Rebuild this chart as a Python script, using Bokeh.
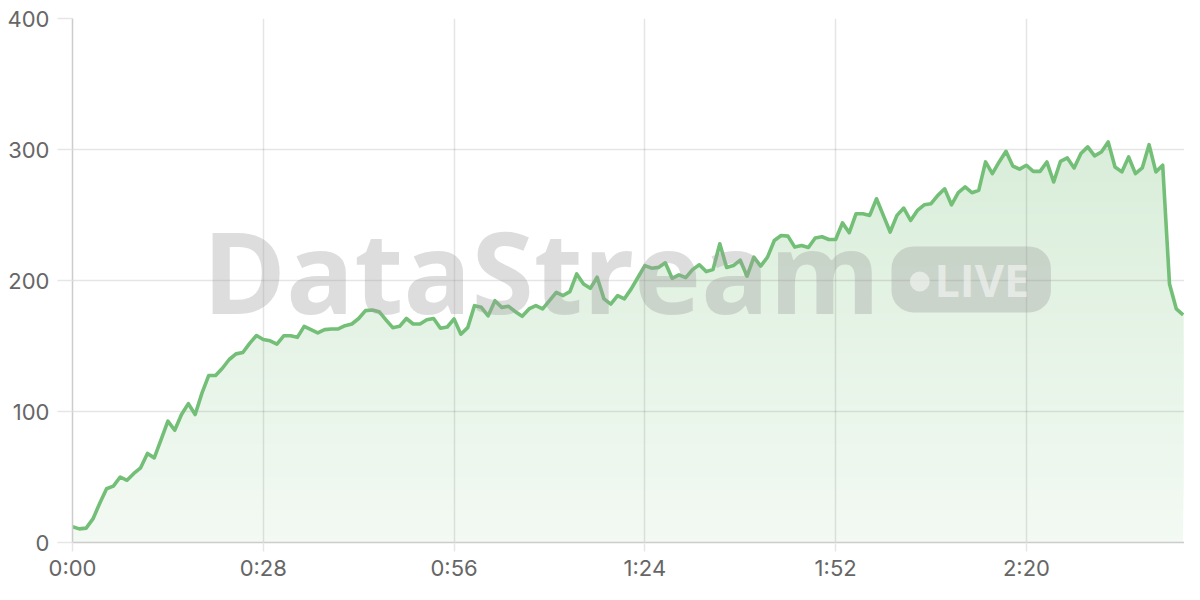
import numpy as np
from bokeh.plotting import figure
from bokeh.models import Range1d, FixedTicker, Label, BoxAnnotation
from bokeh.embed import file_html
from bokeh.resources import INLINE

# ---- data (one sample per second, t = 0 .. 163) ----
seconds = list(range(164))
values = [
    12.0, 10.4, 11.0, 18.0, 30.0, 41.0, 43.0, 50.0, 47.5, 52.7,
    57.0, 68.0, 64.6, 78.6, 92.6, 85.7, 97.7, 106.0, 97.7, 114.0,
    127.5, 127.5, 133.0, 139.7, 144.0, 145.0, 152.0, 158.0, 155.0, 154.0,
    151.5, 157.8, 157.8, 156.6, 165.0, 162.5, 160.0, 162.5, 163.0, 163.0,
    165.5, 166.8, 171.0, 177.0, 177.5, 176.2, 170.0, 164.0, 165.0, 171.0,
    166.8, 166.8, 170.0, 171.0, 163.5, 164.5, 170.6, 159.0, 164.0, 180.8,
    179.5, 173.0, 184.6, 179.5, 180.3, 176.2, 172.7, 178.3, 180.8, 178.3,
    184.6, 191.0, 188.5, 191.5, 205.0, 197.4, 194.0, 202.5, 186.0, 182.0,
    188.5, 186.0, 193.6, 202.5, 211.4, 209.4, 210.0, 213.5, 201.7, 204.3,
    202.2, 208.3, 212.0, 206.8, 208.3, 228.0, 210.0, 211.4, 215.5, 203.3,
    217.8, 211.0, 217.8, 230.5, 234.4, 233.9, 225.5, 226.7, 225.2, 232.4,
    233.4, 231.3, 231.3, 244.0, 236.5, 251.0, 251.0, 249.7, 262.4, 249.7,
    237.0, 249.7, 255.3, 245.8, 253.5, 257.8, 258.6, 265.0, 270.0, 257.8,
    267.0, 271.4, 267.0, 268.8, 290.5, 281.6, 290.5, 298.6, 287.4, 285.0,
    288.0, 283.3, 283.3, 290.5, 275.2, 291.0, 293.6, 285.9, 296.9, 302.0,
    295.1, 298.1, 305.8, 286.7, 282.9, 294.3, 281.6, 285.9, 303.7, 282.9,
    288.0, 197.4, 178.3, 173.7,
]
x_ticks = [0, 28, 56, 84, 112, 140]
x_tick_labels = ["0:00", "0:28", "0:56", "1:24", "1:52", "2:20"]
y_ticks = [0, 100, 200, 300, 400]

GREEN = (116, 191, 119)
GREEN_HEX = "#74bf77"
AXIS = "#cccccc"
LABEL = "#666666"
FONT = "Inter"
WM_FONT = "Open Sans"

p = figure(width=1184, height=584, x_range=Range1d(0, 163.2), y_range=Range1d(0, 400),
           output_backend="svg", toolbar_location=None,
           min_border_left=72, min_border_right=0, min_border_top=18, min_border_bottom=42)
p.outline_line_color = None
p.background_fill_color = "white"
p.border_fill_color = "white"

x = np.array(seconds, dtype=float)
v = np.array(values, dtype=float)


def blend(alpha):
    c = [round(255 - alpha * (255 - g)) for g in GREEN]
    return "#%02x%02x%02x" % tuple(c)


# vertical gradient fill under the line (opaque stacked bands, painted below the grid)
n_bands = 80
step = 400.0 / n_bands
for k in range(n_bands):
    lo = k * step
    if lo > v.max():
        break
    a = 0.086 + 0.000623 * (lo + step / 2)
    p.varea(x=x, y1=np.minimum(v, lo), y2=v, fill_color=blend(a), level="image")

p.line(x, v, line_color=GREEN_HEX, line_width=3.6, line_join="round")

# grids
p.xgrid.ticker = FixedTicker(ticks=x_ticks)
p.ygrid.ticker = FixedTicker(ticks=y_ticks)
for g in (p.xgrid, p.ygrid):
    g.grid_line_color = "black"
    g.grid_line_alpha = 0.1
    g.grid_line_width = 1.5

# axes
p.xaxis.ticker = FixedTicker(ticks=x_ticks)
p.xaxis.major_label_overrides = {t: lab for t, lab in zip(x_ticks, x_tick_labels)}
p.yaxis.ticker = FixedTicker(ticks=y_ticks)
for ax in (p.xaxis, p.yaxis):
    ax.axis_line_color = AXIS
    ax.axis_line_width = 1.5
    ax.major_tick_line_color = "#e6e6e6"
    ax.major_tick_line_width = 1.5
    ax.major_tick_in = 0
    ax.minor_tick_line_color = None
    ax.major_label_text_font = FONT
    ax.major_label_text_font_size = "22px"
    ax.major_label_text_color = LABEL
p.yaxis.major_tick_out = 15
p.yaxis.major_label_standoff = 8
p.xaxis.major_tick_out = 9
p.xaxis.major_label_standoff = 3

# watermark
WM = "#9e9e9e"
WM_ALPHA = 0.35
p.add_layout(Label(x=68.8, y=208, text="DataStream", text_font=WM_FONT, text_font_style="bold",
                   text_font_size="113px", text_color=WM, text_alpha=WM_ALPHA,
                   text_align="center", text_baseline="alphabetic"))
p.add_layout(BoxAnnotation(left=120.2, right=143.6, top=226, bottom=175.6, border_radius=22,
                           fill_color=WM, fill_alpha=WM_ALPHA, line_color=None, level="annotation"))
p.add_layout(BoxAnnotation(left=122.9, right=125.8, top=206.8, bottom=191.6, border_radius=10,
                           fill_color="white", fill_alpha=0.5, line_color=None, level="annotation"))
p.add_layout(Label(x=126.5, y=201.1, text="LIVE", text_font=WM_FONT, text_font_style="bold",
                   text_font_size="45px", text_color="white", text_alpha=0.5, text_align="left",
                   text_baseline="alphabetic"))

open("out.html", "w").write(file_html(p, INLINE))
